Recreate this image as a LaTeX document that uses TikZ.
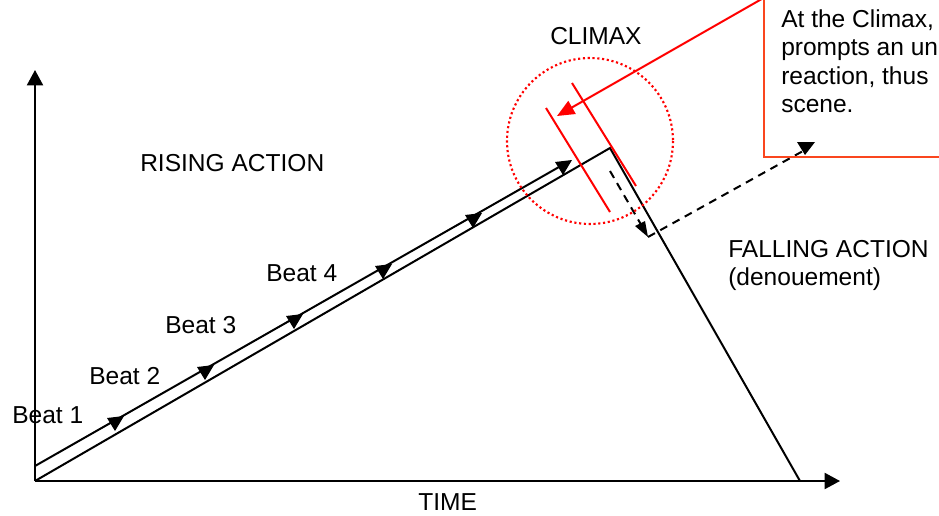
\documentclass[tikz,border=0pt]{standalone}
\usepackage{fontspec}
\setmainfont{Liberation Sans}
\usetikzlibrary{arrows.meta}
\definecolor{boxred}{RGB}{250,70,30}
\tikzset{
  line/.style={line width=1.5pt},
  lbl/.style={anchor=base west, inner sep=0pt, font=\fontsize{18.4pt}{21pt}\selectfont},
  redline/.style={red, line width=1.5pt},
  dashline/.style={line width=1.5pt, dash pattern=on 6pt off 4.5pt},
  tri/.pic={\fill (-8,-3) -- (9,-5) -- (0,10) -- cycle;}
}
\begin{document}
\begin{tikzpicture}[x=0.75pt,y=-0.75pt]
\useasboundingbox (0,0) rectangle (939,515);
\clip (0,0) rectangle (939,515);
% coordinates
\coordinate (O) at (35,481);
\coordinate (Ytop) at (35,70);
\coordinate (Xend) at (840,481);
\coordinate (apex) at (610,148);
\coordinate (fallend) at (800,481);
\coordinate (upA) at (35,466);
\coordinate (upB) at (566,163);
\coordinate (d1s) at (610,171);
\coordinate (d1e) at (643,228);
\coordinate (d2s) at (648,237);
\coordinate (d2e) at (803,151);
\coordinate (rstart) at (775,-8.6);
\coordinate (rtip) at (557,116);
% axes
\draw[line, -{Triangle[length=11.5pt,width=12pt]}] (O) -- (Ytop);
\draw[line, -{Triangle[length=11.5pt,width=12pt]}] (O) -- (Xend);
% main triangle
\draw[line] (O) -- (apex) -- (fallend);
% upper line with markers
\draw[line] (upA) -- (upB);
\foreach \p in {(115,421),(205,370),(294,319),(383,269),(473,218),(563,165)}
  \pic at \p {tri};
% dashed arrows
\draw[dashline] (d1s) -- (d1e);
\fill (635,226) -- (645,221) -- (648,237) -- cycle;
\draw[dashline] (d2s) -- (d2e);
\fill (797,142) -- (815,142) -- (805,155) -- cycle;
% red climax marks
\draw[red, line width=1.6pt, dotted] (590,141) circle[radius=83];
\draw[redline] (546,108) -- (610,212);
\draw[redline] (572,83) -- (636,186);
\draw[redline, -{Triangle[length=13pt,width=11pt]}] (rstart) -- (rtip);
% red box
\draw[boxred, line width=1.3pt] (764,-20) -- (764,157) -- (960,157);
% labels
\node[lbl] (climax) at (550,44) {CLIMAX};
\node[lbl] (rising) at (140,171) {RISING ACTION};
\node[lbl] (falling) at (728,257) {FALLING ACTION};
\node[lbl] (denoue) at (728,285) {(denouement)};
\node[lbl] (b4) at (266,281) {Beat 4};
\node[lbl] (b3) at (165,333) {Beat 3};
\node[lbl] (b2) at (89,384) {Beat 2};
\node[lbl] (b1) at (12,423) {Beat 1};
\node[lbl] (time) at (418,510) {TIME};
\node[lbl] (t1) at (781,27) {At the Climax,};
\node[lbl] (t2) at (781,55.5) {prompts an un};
\node[lbl] (t3) at (781,84) {reaction, thus};
\node[lbl] (t4) at (781,112.5) {scene.};
\end{tikzpicture}
\end{document}
